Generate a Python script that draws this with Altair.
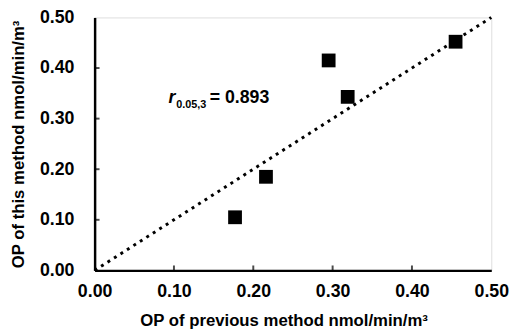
import altair as alt
import pandas as pd

# data
prev_method = [0.177, 0.216, 0.295, 0.319, 0.455]
this_method = [0.105, 0.185, 0.415, 0.343, 0.452]
line_x = [0.0, 0.5]
line_y = [0.0, 0.5]
tick_values = [0.0, 0.1, 0.2, 0.3, 0.4, 0.5]
inner_ticks = [0.1, 0.2, 0.3, 0.4]
annot_x = [0.093]
annot_y = [0.331]
annot_r = ["r"]
annot_sub = ["0.05,3"]
annot_val = ["= 0.893"]

FONT = "Liberation Sans"

pts = pd.DataFrame({"x": prev_method, "y": this_method})
ln = pd.DataFrame({"x": line_x, "y": line_y})
tk = pd.DataFrame({"t": inner_ticks})
an = pd.DataFrame({"x": annot_x, "y": annot_y, "r": annot_r, "s": annot_sub, "v": annot_val})

xscale = alt.Scale(domain=[0, 0.5], nice=False)
yscale = alt.Scale(domain=[0, 0.5], nice=False)

xaxis = alt.Axis(
    title="OP of previous method nmol/min/m³",
    values=tick_values, format=".2f", ticks=False, grid=False,
    domain=True, domainColor="black", domainWidth=2.5,
    labelFont=FONT, labelFontSize=18, labelFontWeight="bold", labelColor="black",
    labelPadding=13, titleFont=FONT, titleFontSize=17, titleFontWeight="bold",
    titleColor="black", labelFlush=False,
    titleX=192, titleY=56, titleAlign="center", titleBaseline="alphabetic",
)
yaxis = alt.Axis(
    title="OP of this method nmol/min/m³",
    values=tick_values, format=".2f", ticks=False, grid=False,
    domain=True, domainColor="black", domainWidth=2.5,
    labelFont=FONT, labelFontSize=18, labelFontWeight="bold", labelColor="black",
    labelPadding=21, titleFont=FONT, titleFontSize=17, titleFontWeight="bold",
    titleColor="black", titlePadding=12, labelFlush=False,
)

line = alt.Chart(ln).mark_line(color="black", strokeWidth=3, strokeDash=[3, 4.8]).encode(
    x=alt.X("x:Q", scale=xscale, axis=xaxis),
    y=alt.Y("y:Q", scale=yscale, axis=yaxis),
)

points = alt.Chart(pts).mark_square(size=196, color="black", opacity=1, filled=True).encode(
    x=alt.X("x:Q", scale=xscale),
    y=alt.Y("y:Q", scale=yscale),
)

xticks = alt.Chart(tk).mark_tick(orient="vertical", size=5, thickness=2, color="black", yOffset=-2.5).encode(
    x=alt.X("t:Q", scale=xscale),
    y=alt.YDatum(0, scale=yscale),
)
yticks = alt.Chart(tk).mark_tick(orient="horizontal", size=5, thickness=2, color="black", xOffset=2.5).encode(
    y=alt.Y("t:Q", scale=yscale),
    x=alt.XDatum(0, scale=xscale),
)

txt_r = alt.Chart(an).mark_text(font=FONT, fontSize=18, fontWeight="bold", fontStyle="italic",
                                align="left", baseline="alphabetic", color="black").encode(
    x=alt.X("x:Q", scale=xscale), y=alt.Y("y:Q", scale=yscale), text="r:N")
txt_s = alt.Chart(an).mark_text(font=FONT, fontSize=11, fontWeight="bold",
                                align="left", baseline="alphabetic", color="black", dx=8, dy=5).encode(
    x=alt.X("x:Q", scale=xscale), y=alt.Y("y:Q", scale=yscale), text="s:N")
txt_v = alt.Chart(an).mark_text(font=FONT, fontSize=18, fontWeight="bold",
                                align="left", baseline="alphabetic", color="black", dx=42).encode(
    x=alt.X("x:Q", scale=xscale), y=alt.Y("y:Q", scale=yscale), text="v:N")

chart = alt.layer(line, points, xticks, yticks, txt_r, txt_s, txt_v).properties(
    width=403, height=257,
    autosize=alt.AutoSizeParams(type="none"),
    padding={"left": 88, "top": 7, "right": 18, "bottom": 60},
).configure_view(stroke="black", strokeWidth=2).configure(background="white")

chart.save("out.html", embed_options={"renderer": "svg", "actions": False})
